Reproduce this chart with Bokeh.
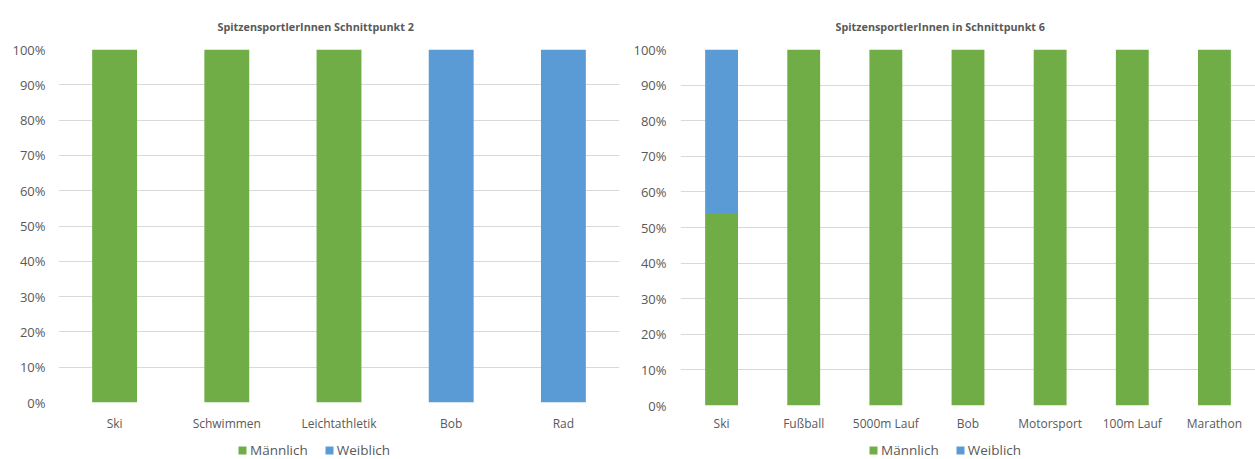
from bokeh.plotting import figure
from bokeh.models import (ColumnDataSource, FactorRange, Range1d, FixedTicker,
                          NumeralTickFormatter, Legend, LegendItem, Title)
from bokeh.layouts import row, column
from bokeh.embed import file_html
from bokeh.resources import INLINE

# Schnittpunkt 2
sports_2 = ["Ski", "Schwimmen", "Leichtathletik", "Bob", "Rad"]
maennlich_2 = [1.0, 1.0, 1.0, 0.0, 0.0]
weiblich_2 = [0.0, 0.0, 0.0, 1.0, 1.0]

# Schnittpunkt 6
sports_6 = ["Ski", "Fußball", "5000m Lauf", "Bob", "Motorsport", "100m Lauf", "Marathon"]
maennlich_6 = [0.538, 1.0, 1.0, 1.0, 1.0, 1.0, 1.0]
weiblich_6 = [0.462, 0.0, 0.0, 0.0, 0.0, 0.0, 0.0]

series_names = ["Männlich", "Weiblich"]
y_ticks = [i / 10 for i in range(11)]

GREEN = "#70AD47"
BLUE = "#5B9BD5"
TEXT = "#595959"
GRID = "#D9D9D9"
FONT = "Open Sans"

CHART_H = 435
LEGEND_H = 459 - CHART_H


def stacked_chart(title, cats, male, female, width, border_left, border_right,
                  frame_bottom, label_standoff, x_standoff, title_offset):
    src = ColumnDataSource(dict(cat=cats, m=male, w=female))
    p = figure(x_range=FactorRange(*cats, range_padding=0), y_range=Range1d(0, 1),
               width=width, height=CHART_H, output_backend="svg", toolbar_location=None,
               min_border_left=border_left, min_border_right=border_right,
               min_border_top=49, min_border_bottom=CHART_H - frame_bottom)
    p.outline_line_color = None
    p.border_fill_color = "white"

    p.vbar_stack(["m", "w"], x="cat", width=0.4, source=src,
                 fill_color=[GREEN, BLUE], line_color=None)

    t = Title(text=title, align="left", offset=title_offset, standoff=31,
              text_font=FONT, text_font_style="bold", text_font_size="10.8px",
              text_color=TEXT)
    p.add_layout(t, "above")

    p.yaxis.ticker = FixedTicker(ticks=y_ticks)
    p.yaxis.formatter = NumeralTickFormatter(format="0%")
    p.ygrid.ticker = FixedTicker(ticks=y_ticks)
    p.ygrid.grid_line_color = GRID
    p.xgrid.grid_line_color = None

    for ax in (p.xaxis, p.yaxis):
        ax.axis_line_color = None
        ax.major_tick_line_color = None
        ax.minor_tick_line_color = None
        ax.major_tick_out = 0
        ax.major_tick_in = 0
        ax.major_label_text_font = FONT
        ax.major_label_text_color = TEXT
    p.yaxis.major_label_text_font_size = "13px"
    p.yaxis.major_label_standoff = label_standoff
    p.xaxis.major_label_text_font_size = "12px"
    p.xaxis.major_label_standoff = x_standoff
    return p


def legend_strip(width, border_left, border_right, legend_x):
    # a bare strip under each chart that only carries the series legend;
    # its two zero-height bars exist only to give the legend its swatches
    q = figure(width=width, height=LEGEND_H, output_backend="svg", toolbar_location=None,
               x_range=Range1d(0, 1), y_range=Range1d(0, 1),
               x_axis_location=None, y_axis_location=None, min_border=0,
               min_border_left=border_left, min_border_right=border_right)
    q.outline_line_color = None
    q.grid.grid_line_color = None
    r_m = q.vbar(x=[0], top=[0], width=0.01, fill_color=GREEN, line_color=None)
    r_w = q.vbar(x=[0], top=[0], width=0.01, fill_color=BLUE, line_color=None)
    legend = Legend(items=[LegendItem(label=series_names[0], renderers=[r_m]),
                           LegendItem(label=series_names[1], renderers=[r_w])],
                    orientation="horizontal", location=(legend_x, 0),
                    padding=0, margin=0, spacing=16, label_standoff=3,
                    glyph_width=10, glyph_height=10, border_line_color=None,
                    background_fill_alpha=0, label_text_font=FONT,
                    label_text_font_size="13.5px", label_text_color=TEXT,
                    label_height=12)
    q.add_layout(legend)
    return q


left = stacked_chart("SpitzensportlerInnen Schnittpunkt 2", sports_2, maennlich_2,
                     weiblich_2, width=630, border_left=58, border_right=11,
                     frame_bottom=402, label_standoff=13, x_standoff=12,
                     title_offset=159)
right = stacked_chart("SpitzensportlerInnen in Schnittpunkt 6", sports_6, maennlich_6,
                      weiblich_6, width=625, border_left=48, border_right=0,
                      frame_bottom=405, label_standoff=14, x_standoff=9,
                      title_offset=155)

layout = row(column(left, legend_strip(630, 58, 11, 179)),
             column(right, legend_strip(625, 48, 0, 188)))
open("out.html", "w").write(file_html(layout, INLINE))
